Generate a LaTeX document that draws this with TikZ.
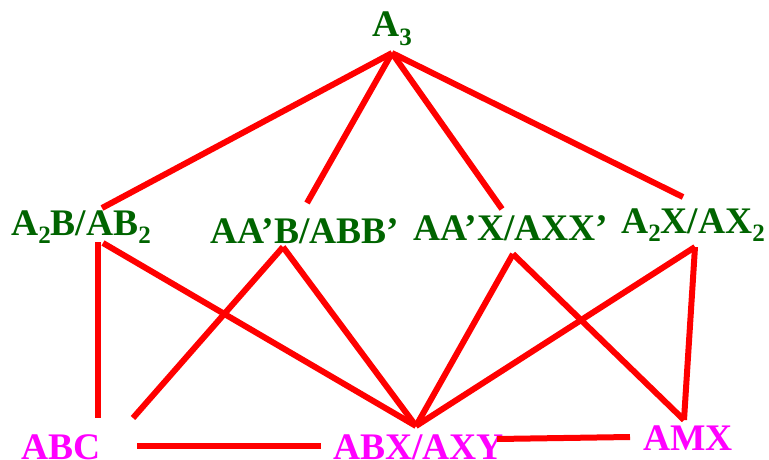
\documentclass[tikz,border=0pt]{standalone}
\usepackage{fontspec}
\setmainfont{Liberation Serif}
\usepackage{xcolor}
\definecolor{cgreen}{HTML}{006400}
\definecolor{cpink}{HTML}{FF00FF}
\definecolor{cred}{HTML}{FF0000}
\newcommand{\lowsub}[1]{\raisebox{-0.22em}{\fontsize{25}{25}\selectfont #1}}

\begin{document}
\begin{tikzpicture}[x=1pt, y=-1pt, every node/.style={
      inner sep=0pt, anchor=base west,
      font=\fontsize{37.5}{40}\selectfont\bfseries},
    upper/.style={text=cgreen}, lower/.style={text=cpink},
    bond/.style={cred, line width=6pt}]
    \useasboundingbox (0,0) rectangle (769,460);
    % labels
    \node[upper] (a3) at (372,37) {A\lowsub{3}};
    \node[upper] (a2b) at (11,235) {A\lowsub{2}B/AB\lowsub{2}};
    \node[upper] (aab) at (210,243) {AA'B/ABB'};
    \node[upper] (aax) at (413,240) {AA'X/AXX'};
    \node[upper] (a2x) at (621,233) {A\lowsub{2}X/AX\lowsub{2}};
    \node[lower] (abc) at (21,459) {ABC};
    \node[lower] (abx) at (333,459) {ABX/AXY};
    \node[lower] (amx) at (643,450) {AMX};
    % line ends
    \coordinate (a3foot) at (392,53);
    \coordinate (a2btop) at (102,208);
    \coordinate (aabtop) at (307,203);
    \coordinate (aaxtop) at (502,209);
    \coordinate (a2xtop) at (683,197);
    \coordinate (a2bleft) at (98,242);
    \coordinate (a2bright) at (103,243);
    \coordinate (aabfoot) at (283,247);
    \coordinate (aaxfoot) at (513,254);
    \coordinate (a2xfoot) at (695,247);
    \coordinate (abctop) at (98,418);
    \coordinate (abcright) at (133,418);
    \coordinate (abxtop) at (416,426);
    \coordinate (amxtop) at (684,420);
    \coordinate (abceast) at (137,446);
    \coordinate (abxwest) at (321,446);
    \coordinate (abxeast) at (497,439);
    \coordinate (amxwest) at (630,437);
    % bonds
    \draw[bond] (a3foot) -- (a2btop);
    \draw[bond] (a3foot) -- (aabtop);
    \draw[bond] (a3foot) -- (aaxtop);
    \draw[bond] (a3foot) -- (a2xtop);
    \draw[bond] (a2bleft) -- (abctop);
    \draw[bond] (a2bright) -- (abxtop);
    \draw[bond] (aabfoot) -- (abcright);
    \draw[bond] (aabfoot) -- (abxtop);
    \draw[bond] (aaxfoot) -- (abxtop);
    \draw[bond] (aaxfoot) -- (amxtop);
    \draw[bond] (a2xfoot) -- (abxtop);
    \draw[bond] (a2xfoot) -- (amxtop);
    \draw[bond] (abceast) -- (abxwest);
    \draw[bond] (abxeast) -- (amxwest);
  \end{tikzpicture}
\end{document}
